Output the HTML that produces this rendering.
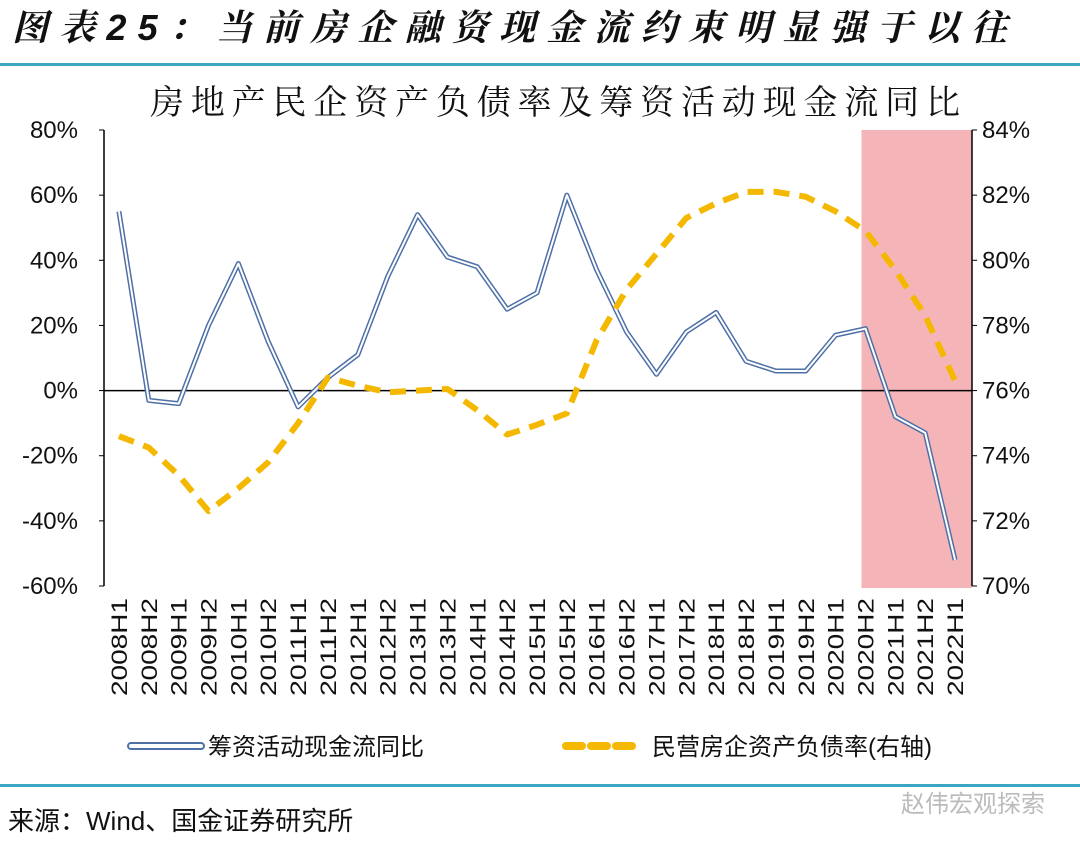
<!DOCTYPE html>
<html><head><meta charset="utf-8">
<style>
body{margin:0;background:#fff;width:1080px;height:854px;overflow:hidden;font-family:"Liberation Sans","Noto Sans CJK SC",sans-serif;}
svg text{font-family:"Liberation Sans","Noto Sans CJK SC",sans-serif;}
</style></head>
<body>
<svg id="c" width="1080" height="854" xmlns="http://www.w3.org/2000/svg">
<text x="12" y="40" font-size="36" font-weight="bold" font-style="italic" fill="#111" textLength="995" lengthAdjust="spacing" style="font-family:'Liberation Sans','Noto Serif CJK SC',sans-serif">图表25：当前房企融资现金流约束明显强于以往</text>
<rect x="0" y="63" width="1080" height="3" fill="#3aa6c1"/>
<text x="555" y="114" font-size="34" text-anchor="middle" fill="#111" textLength="810" lengthAdjust="spacing" style="font-family:'Noto Serif CJK SC',serif">房地产民企资产负债率及筹资活动现金流同比</text>
<g id="plot"></g>
<rect x="0" y="784" width="1080" height="3" fill="#3aa6c1"/>
<text x="8" y="830" font-size="26" fill="#111">来源：Wind、国金证券研究所</text>
<text x="1045" y="812" font-size="24" text-anchor="end" fill="#bbb">赵伟宏观探索</text>
</svg>
<script>
const categories=["2008H1","2008H2","2009H1","2009H2","2010H1","2010H2","2011H1","2011H2","2012H1","2012H2","2013H1","2013H2","2014H1","2014H2","2015H1","2015H2","2016H1","2016H2","2017H1","2017H2","2018H1","2018H2","2019H1","2019H2","2020H1","2020H2","2021H1","2021H2","2022H1"];
const financingYoY=[55,-3,-4,20,39,15,-5,4,11,35,54,41,38,25,30,60,37,18,5,18,24,9,6,6,17,19,-8,-13,-52];
const debtRatio=[74.6,74.25,73.4,72.3,73.0,73.8,75.0,76.4,76.15,75.95,76.0,76.05,75.4,74.65,74.95,75.3,77.55,79.1,80.2,81.3,81.75,82.1,82.1,81.95,81.5,80.9,79.7,78.3,76.3];
const leftTicks=[80,60,40,20,0,-20,-40,-60];
const rightTicks=[84,82,80,78,76,74,72,70];
const shadeStart="2020H2";

const X0=104,X1=970,Y0=130,Y1=586;
const bw=(X1-X0)/categories.length;
const x=i=>X0+bw*(i+0.5);
const yL=v=>Y0+(80-v)/140*(Y1-Y0);
const yR=v=>Y0+(84-v)/14*(Y1-Y0);
const NS="http://www.w3.org/2000/svg";
const g=document.getElementById('plot');
function mk(t,a){const e=document.createElementNS(NS,t);for(const k in a)e.setAttribute(k,a[k]);g.appendChild(e);return e;}

const si=categories.indexOf(shadeStart);
const sh=mk('rect',{x:x(si)-4,y:Y0,width:X1+2-(x(si)-4),height:Y1-Y0+2,fill:'#f5b5b8'});



let a=mk('line',{x1:X0,y1:Y0,x2:X0,y2:Y1,stroke:'#000','stroke-width':1.5});

a=mk('line',{x1:X1+2,y1:Y0,x2:X1+2,y2:Y1,stroke:'#000','stroke-width':1.5});

a=mk('line',{x1:X0,y1:yL(0),x2:X1+2,y2:yL(0),stroke:'#000','stroke-width':1.5});


leftTicks.forEach(v=>{
 const t=mk('text',{x:X0-26,y:yL(v)+8,'font-size':24,'text-anchor':'end',fill:'#111'});t.textContent=v+'%';
 
 mk('line',{x1:X0-5,y1:yL(v),x2:X0,y2:yL(v),stroke:'#000'});
});
rightTicks.forEach(v=>{
 const t=mk('text',{x:X1+12,y:yR(v)+8,'font-size':24,fill:'#111'});t.textContent=v+'%';
 
 mk('line',{x1:X1+2,y1:yR(v),x2:X1+7,y2:yR(v),stroke:'#000'});
});
categories.forEach((c,i)=>{
 const t=mk('text',{x:0,y:0,'font-size':22,'text-anchor':'end',fill:'#111',textLength:98,lengthAdjust:'spacingAndGlyphs',transform:`translate(${x(i)+8},${Y1+12}) rotate(-90)`});t.textContent=c;
 
});

const pb=financingYoY.map((v,i)=>x(i)+','+yL(v)).join(' ');
let l=mk('polyline',{points:pb,fill:'none',stroke:'#4e70a6','stroke-width':5,'stroke-linejoin':'round'});

l=mk('polyline',{points:pb,fill:'none',stroke:'#fff','stroke-width':2,'stroke-linejoin':'round'});


const py=debtRatio.map((v,i)=>x(i)+','+yR(v)).join(' ');
l=mk('polyline',{points:py,fill:'none',stroke:'#f5b800','stroke-width':6,'stroke-dasharray':'16 10','stroke-linejoin':'round'});


// legend
let r=mk('rect',{x:128,y:743,width:76,height:6,rx:3,fill:'#fff',stroke:'#4e70a6','stroke-width':2});

let t=mk('text',{x:208,y:755,'font-size':24,fill:'#111'});t.textContent='筹资活动现金流同比';

l=mk('line',{x1:566,y1:746,x2:640,y2:746,stroke:'#f5b800','stroke-width':8,'stroke-dasharray':'16 9','stroke-linecap':'round'});

t=mk('text',{x:652,y:755,'font-size':24,fill:'#111'});t.textContent='民营房企资产负债率(右轴)';

</script>
</body></html>
